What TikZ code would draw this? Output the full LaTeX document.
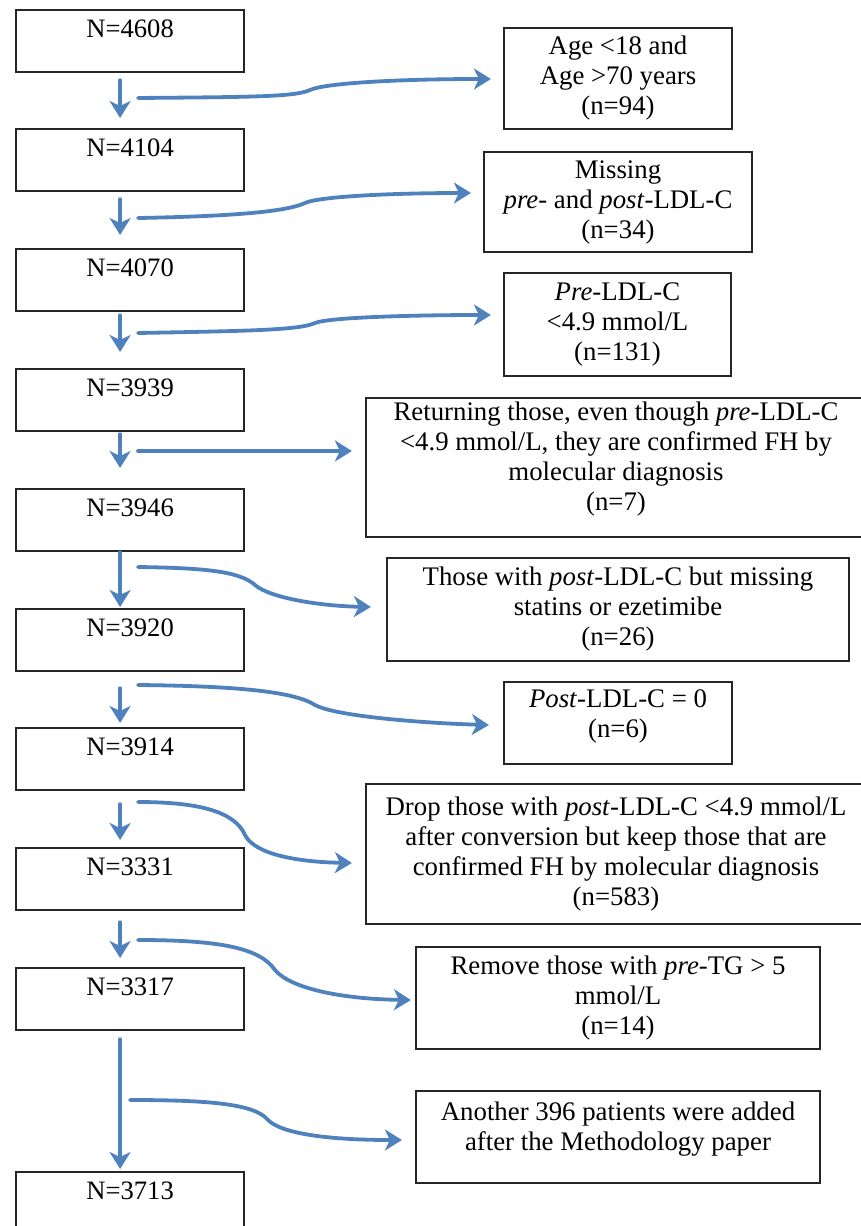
\documentclass[tikz,border=0pt]{standalone}
\usepackage{fontspec}
\setmainfont{Liberation Serif}
\usetikzlibrary{arrows.meta,calc}
\definecolor{arrowblue}{HTML}{4F81BD}
\begin{document}
\begin{tikzpicture}[x=0.5pt,y=-0.5pt,
  leftbox/.style={draw=black!85, line width=1.1pt, minimum width=114pt, inner sep=0pt,
    text height=13.5pt, text depth=17.5pt, font=\fontsize{13.3}{15}\selectfont, anchor=north west},
  rbox/.style={draw=black!85, line width=1.1pt, inner sep=0pt, align=center,
    font=\fontsize{13.4}{15}\selectfont},
  flow/.style={draw=arrowblue, line width=1.9pt, line cap=round,
    -{Stealth[length=8.5pt,width=10.5pt,inset=2.5pt]}}]
\useasboundingbox (0,0) rectangle (861,1226);

% left column
\node[leftbox] (b1)  at (15,9)    {N=4608};
\node[leftbox] (b2)  at (15,128)  {N=4104};
\node[leftbox] (b3)  at (15,248)  {N=4070};
\node[leftbox] (b4)  at (15,368)  {N=3939};
\node[leftbox] (b5)  at (15,488)  {N=3946};
\node[leftbox] (b6)  at (15,608)  {N=3920};
\node[leftbox] (b7)  at (15,727)  {N=3914};
\node[leftbox] (b8)  at (15,847)  {N=3331};
\node[leftbox] (b9)  at (15,967)  {N=3317};
\node[leftbox] (b10) at (15,1171) {N=3713};

% right column
\node[rbox, minimum width=114pt, minimum height=50.5pt] (rA) at (618,78.5)
  {Age <18 and\\Age >70 years\\(n=94)};
\node[rbox, minimum width=134pt, minimum height=50pt] (rB) at (618,202)
  {Missing\\\textit{pre}- and \textit{post}-LDL-C\\(n=34)};
\node[rbox, minimum width=113.5pt, minimum height=51.5pt] (rC) at (617.5,324.5)
  {\textit{Pre}-LDL-C\\<4.9 mmol/L\\(n=131)};
\node[rbox, minimum width=250pt, minimum height=69.5pt] (rD) at (616,467.5)
  {Returning those, even though \textit{pre}-LDL-C\\<4.9 mmol/L, they are confirmed FH by\\molecular diagnosis\\(n=7)\\[-4pt]\mbox{}};
\node[rbox, minimum width=231pt, minimum height=51.5pt] (rE) at (618,609.5)
  {Those with \textit{post}-LDL-C but missing\\statins or ezetimibe\\(n=26)};
\node[rbox, minimum width=114pt, minimum height=41pt] (rF) at (618,723)
  {\textit{Post}-LDL-C = 0\\(n=6)\\[-6pt]\mbox{}};
\node[rbox, minimum width=250pt, minimum height=70pt] (rG) at (616,854)
  {Drop those with \textit{post}-LDL-C <4.9 mmol/L\\after conversion but keep those that are\\confirmed FH by molecular diagnosis\\(n=583)};
\node[rbox, minimum width=202pt, minimum height=51pt] (rH) at (618,998)
  {Remove those with \textit{pre}-TG > 5\\mmol/L\\(n=14)};
\node[rbox, minimum width=202pt, minimum height=46pt] (rI) at (618,1137)
  {Another 396 patients were added\\after the Methodology paper\\[-4pt]\mbox{}};

% down arrows
\draw[flow] ($(b1.south)+(-10,7)$)  -- ($(b2.north)+(-10,-10)$);
\draw[flow] ($(b2.south)+(-10,7)$)  -- ($(b3.north)+(-10,-13)$);
\draw[flow] ($(b3.south)+(-10,3)$)  -- ($(b4.north)+(-10,-16)$);
\draw[flow] ($(b4.south)+(-10,2)$)  -- ($(b5.north)+(-10,-20)$);
\draw[flow] ($(b5.south)+(-10,0)$)  -- ($(b6.north)+(-10,-1)$);
\draw[flow] ($(b6.south)+(-10,16)$) -- ($(b7.north)+(-10,-4)$);
\draw[flow] ($(b7.south)+(-10,13)$) -- ($(b8.north)+(-10,-7)$);
\draw[flow] ($(b8.south)+(-10,11)$) -- ($(b9.north)+(-10,-9)$);
\draw[flow] ($(b9.south)+(-10,8)$)  -- ($(b10.north)+(-10,-2)$);

% side arrow start points
\coordinate (sA) at (138,98);
\coordinate (sB) at (138,218);
\coordinate (sC) at (138,333);
\coordinate (sD) at (138,451);
\coordinate (sE) at (138,567);
\coordinate (sF) at (138,685);
\coordinate (sG) at (138,802);
\coordinate (sH) at (138,940);
\coordinate (sI) at (130,1100);

% side arrows
\draw[flow] (sA) .. controls (250,97) and (295,97) .. (310,90)
  .. controls (325,83) and (400,79) .. ($(rA.west)+(-12,0.5)$);
\draw[flow] (sB) .. controls (250,216) and (290,210) .. (305,203)
  .. controls (320,196) and (400,193) .. ($(rB.west)+(-12,-9)$);
\draw[flow] (sC) .. controls (250,331) and (300,330) .. (315,323)
  .. controls (330,317) and (420,315) .. ($(rC.west)+(-12,-9.5)$);
\draw[flow] (sD) -- ($(rD.west)+(-13,-16.5)$);
\draw[flow] (sE) .. controls (210,568) and (240,572) .. (255,585)
  .. controls (270,598) and (320,606) .. ($(rE.west)+(-15,-2.5)$);
\draw[flow] (sF) .. controls (240,686) and (295,692) .. (315,705)
  .. controls (335,716) and (420,723) .. ($(rF.west)+(-14,2)$);
\draw[flow] (sG) .. controls (200,802) and (235,812) .. (245,835)
  .. controls (255,855) and (300,862) .. ($(rG.west)+(-13,9)$);
\draw[flow] (sH) .. controls (220,940) and (260,948) .. (275,970)
  .. controls (290,988) and (340,999) .. ($(rH.west)+(-4,2)$);
\draw[flow] (sI) .. controls (210,1100) and (255,1104) .. (268,1120)
  .. controls (282,1134) and (330,1140) .. ($(rI.west)+(-13,3)$);
\end{tikzpicture}
\end{document}
